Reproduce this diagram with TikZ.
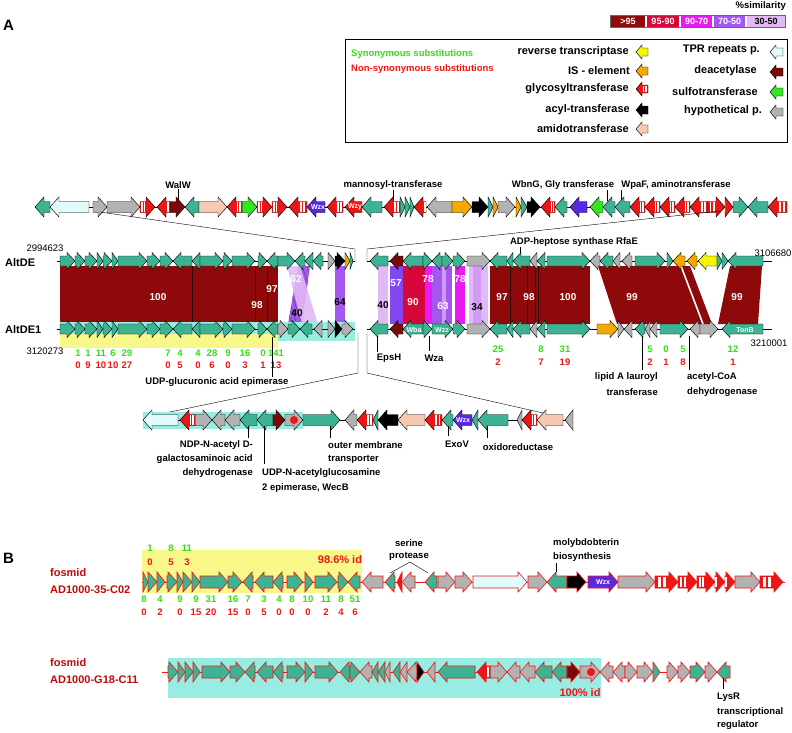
\documentclass[tikz,border=0pt]{standalone}
\usepackage{fontspec}
\setmainfont{Liberation Sans}
\usetikzlibrary{positioning}

\definecolor{cTeal}{HTML}{3DB393}
\definecolor{cTpr}{HTML}{E2FAFA}
\definecolor{cGray}{HTML}{B2B2B2}
\definecolor{cPeach}{HTML}{F7C9B2}
\definecolor{cGreen}{HTML}{33E622}
\definecolor{cBlue}{HTML}{5A28E0}
\definecolor{cOrange}{HTML}{F2A900}
\definecolor{cYellow}{HTML}{F5F500}
\definecolor{cDred}{HTML}{7A0A0A}
\definecolor{cRed}{HTML}{EE1515}
\definecolor{cSimA}{HTML}{8E0A0A}
\definecolor{cSimB}{HTML}{D6083A}
\definecolor{cSimC}{HTML}{E81CF2}
\definecolor{cSimD}{HTML}{A457EE}
\definecolor{cSimE}{HTML}{E2B8F6}
\definecolor{cCyan}{HTML}{98ECE2}
\definecolor{cYel}{HTML}{F8F88A}
\definecolor{cNumG}{HTML}{3ADD10}
\definecolor{cFos}{HTML}{C00A0A}

\tikzset{
  gene/.style={draw=black, line width=0.45pt},
  fos/.style={draw=cRed, line width=0.6pt},
  gTeal/.style={fill=cTeal}, gTpr/.style={fill=cTpr}, gGray/.style={fill=cGray},
  gPeach/.style={fill=cPeach}, gGreen/.style={fill=cGreen}, gBlue/.style={fill=cBlue},
  gOrange/.style={fill=cOrange}, gYellow/.style={fill=cYellow}, gDred/.style={fill=cDred},
  gBlack/.style={fill=black}, gRed/.style={fill=cRed},
  lbl/.style={font=\bfseries\fontsize{9.5}{11}\selectfont, inner sep=0pt},
  leg/.style={font=\bfseries\fontsize{11}{13}\selectfont, inner sep=0pt, anchor=east},
  coordlbl/.style={font=\fontsize{9.5}{11}\selectfont, inner sep=0pt},
  inlbl/.style={font=\bfseries\fontsize{7}{8}\selectfont, text=white, inner sep=0pt},
  simlbl/.style={font=\bfseries\fontsize{10}{12}\selectfont, text=white, inner sep=0pt},
  numg/.style={font=\bfseries\fontsize{9.5}{11}\selectfont, text=cNumG, inner sep=0pt},
  numr/.style={font=\bfseries\fontsize{9.5}{11}\selectfont, text=cRed, inner sep=0pt},
  fosl/.style={font=\bfseries\fontsize{11}{13}\selectfont, text=cFos, inner sep=0pt, anchor=west},
}

% gene arrow: tail x, tip x, y, style
\newcommand{\gene}[4]{%
  \pgfmathsetmacro{\gl}{#2-#1}%
  \pgfmathsetmacro{\gh}{min(abs(\gl),\hlen)*(2*(\gl>0)-1)}%
  \path[gene,#4] (#1,#3-\bh) -- ({#2-\gh},#3-\bh) -- ({#2-\gh},#3-\hh) -- (#2,#3)
    -- ({#2-\gh},#3+\hh) -- ({#2-\gh},#3+\bh) -- (#1,#3+\bh) -- cycle;}
% glycosyltransferase (striped)
\newcommand{\glyc}[4]{%
  \gene{#1}{#2}{#3}{gRed,#4}%
  \pgfmathsetmacro{\ba}{#1}\pgfmathsetmacro{\bz}{#2-\gh}%
  \fill[white] ({\ba+(\bz-\ba)*0.2},#3-\bh+0.7) rectangle ({\ba+(\bz-\ba)*0.42},#3+\bh-0.7);
  \fill[white] ({\ba+(\bz-\ba)*0.6},#3-\bh+0.7) rectangle ({\ba+(\bz-\ba)*0.82},#3+\bh-0.7);}

\begin{document}
\begin{tikzpicture}[x=1pt,y=-1pt]
\useasboundingbox[fill=white] (0,0) rectangle (792,732);

\node[font=\bfseries\fontsize{15}{17}\selectfont, inner sep=0pt, anchor=west] (pa) at (3,25) {A};
\node[font=\bfseries\fontsize{15}{17}\selectfont, inner sep=0pt, anchor=west] (pb) at (3,558) {B};

% similarity scale
\node[lbl, anchor=east] (simt) at (786,6) {\%similarity};
\fill[cSimA] (611,16) rectangle (645,27);
\fill[cSimB] (647,16) rectangle (679,27);
\fill[cSimC] (681,16) rectangle (712,27);
\fill[cSimD] (714,16) rectangle (745,27);
\fill[cSimE] (747,16) rectangle (785,27);
\draw[black!60, line width=0.4pt] (610,15.5) rectangle (785.5,27.5);
\node[simlbl, font=\bfseries\fontsize{9}{10}\selectfont] (s1) at (628,21.5) {>95};
\node[simlbl, font=\bfseries\fontsize{9}{10}\selectfont] (s2) at (663,21.5) {95-90};
\node[simlbl, font=\bfseries\fontsize{9}{10}\selectfont] (s3) at (696.5,21.5) {90-70};
\node[simlbl, font=\bfseries\fontsize{9}{10}\selectfont] (s4) at (729.5,21.5) {70-50};
\node[simlbl, font=\bfseries\fontsize{9}{10}\selectfont, text=black] (s5) at (766,21.5) {30-50};

% legend
\draw[line width=0.6pt] (345,39) rectangle (787,142);
\node[lbl, text=cNumG, anchor=west] (syn) at (351,54) {Synonymous substitutions};
\node[lbl, text=cRed, anchor=west] (nsyn) at (351,69) {Non-synonymous substitutions};
\node[leg] (lrt) at (629,52) {reverse transcriptase};
\node[leg] (lis) at (630,71) {IS - element};
\node[leg] (lgt) at (629,89) {glycosyltransferase};
\node[leg] (lat) at (630,110) {acyl-transferase};
\node[leg] (lam) at (629,129) {amidotransferase};
\node[leg] (ltpr) at (760,50) {TPR repeats p.};
\node[leg] (lde) at (757,71) {deacetylase};
\node[leg] (lsu) at (758,92) {sulfotransferase};
\node[leg] (lhy) at (762,111) {hypothetical p.};
\begin{scope}
\def\hh{7}\def\bh{4}\def\hlen{6}
\gene{648}{636}{52}{gYellow}
\gene{648}{636}{71}{gOrange}
\glyc{648}{636}{89}{}
\gene{648}{636}{110}{gBlack}
\gene{648}{636}{129}{gPeach}
\gene{783}{770}{52}{gTpr}
\gene{783}{770}{72}{gDred}
\gene{783}{770}{92}{gGreen}
\gene{783}{770}{112}{gGray}
\end{scope}

% top row
\node[lbl] (walw) at (178,185) {WalW};
\node[lbl] (mann) at (393,185) {mannosyl-transferase};
\node[lbl] (wbng) at (563,185) {WbnG, Gly transferase};
\node[lbl] (wpaf) at (676,185) {WpaF, aminotransferase};
\draw (walw.south) -- ++(0,11);
\draw (mann.south) -- ++(0,11);
\draw ([xshift=44pt]wbng.south) -- ++(0,11);
\draw ([xshift=-55pt]wpaf.south) -- ++(0,11);
\begin{scope}
\def\hh{10}\def\bh{5.5}\def\hlen{9}
\draw (35,207) -- (787,207);
\foreach \a/\b/\c in {50/35/gTeal, 89/50/gTpr, 93/107/gGray, 107/140/gGray, 170/185/gDred,
  199/185/gTeal, 199/227/gPeach, 242/257/gGreen, 325/307/gBlue, 362/345/gRed, 382/362/gTeal,
  400/405/gTeal, 405/410/gTeal, 410/414/gTeal, 452/427/gGray, 452/472/gOrange, 472/488/gBlack,
  488/493/gTeal, 493/498/gOrange, 498/515/gGray, 516/521/gOrange, 521/527/gTeal, 527/540/gBlack,
  567/555/gTeal, 587/570/gBlue, 603/590/gGreen, 615/603/gTeal, 630/615/gTeal, 733/748/gTeal,
  768/748/gTeal}
  \gene{\a}{\b}{207}{\c};
\foreach \a/\b in {140/155, 170/157, 242/227, 257/272, 272/287, 307/289, 343/327, 400/384,
  426/414, 555/541, 645/630, 660/645, 675/660, 690/675, 708/690, 708/725, 725/733, 787/768}
  \glyc{\a}{\b}{207}{};
\node[inlbl] (wzx1) at (318,207) {Wzx};
\node[inlbl] (wzy1) at (355,207) {Wzy};
\end{scope}

% connectors top row -> AltDE
\coordinate (ta) at (100,212);
\coordinate (tb) at (355,249);
\coordinate (tc) at (355,262);
\coordinate (td) at (720,211);
\coordinate (te) at (367,249);
\coordinate (tf) at (367,262);
\draw (ta) -- (tb) -- (tc);
\draw (td) -- (te) -- (tf);

% similarity bands
\fill[cSimA] (60,266) rectangle (278,324);
\draw[black!70!cSimA, line width=0.5pt] (192,266) -- (192,324) (255,266) -- (255,324) (267,266) -- (267,324);
\begin{scope}
\clip (298,266) -- (310,266) -- (302,324) -- (288,324) -- cycle;
\fill[cSimD] (280,266) rectangle (320,324);
\foreach \k in {0,...,10} \draw[black!75, line width=0.35pt] ({272+\k*5},266) -- ({292+\k*5},324);
\end{scope}
\fill[cSimE, opacity=0.9] (287,266) -- (300,266) -- (318,324) -- (302,324) -- cycle;
\fill[cSimD] (335,266) rectangle (345,324);
\fill[cSimE] (378,266) rectangle (388,324);
\fill[cSimD!80!blue] (390,266) rectangle (403,324);
\fill[cSimB] (403,266) rectangle (425,324);
\fill[cSimC] (425,266) rectangle (432,324);
\fill[cSimD] (432,266) rectangle (452,324);
\fill[cSimE!70!cSimD] (442,266) rectangle (446,324);
\fill[cSimC] (455,266) rectangle (465,324);
\fill[cSimE] (469,266) rectangle (488,324);
\fill[cSimE!70!cSimD] (473,266) rectangle (481,324);
\fill[cSimA] (490,266) rectangle (590,324);
\draw[black!70!cSimA, line width=0.5pt] (510,266) -- (510,324) (527,266) -- (527,324) (535,266) -- (535,324) (538,266) -- (538,324);
\fill[cSimA] (598,266) -- (680,266) -- (702,324) -- (617,324) -- cycle;
\fill[cSimA] (682,266) -- (690,266) -- (712,324) -- (704,324) -- cycle;
\fill[cSimA] (730,266) -- (762,266) -- (758,324) -- (718,324) -- cycle;
\node[simlbl] (p100a) at (158,297) {100};
\node[simlbl] (p98a) at (257,305) {98};
\node[simlbl] (p97a) at (272,289) {97};
\node[simlbl] (p62) at (296,279) {62};
\node[simlbl, text=black] (p40a) at (297,313) {40};
\node[simlbl, text=black] (p64) at (340,302) {64};
\node[simlbl, text=black] (p40b) at (383,305) {40};
\node[simlbl] (p57) at (396,283) {57};
\node[simlbl] (p90) at (413,302) {90};
\node[simlbl] (p78a) at (428,279) {78};
\node[simlbl] (p63) at (443,306) {63};
\node[simlbl] (p78b) at (460,279) {78};
\node[simlbl, text=black] (p34) at (477,307) {34};
\node[simlbl] (p97b) at (502,297) {97};
\node[simlbl] (p98b) at (529,297) {98};
\node[simlbl] (p100b) at (568,297) {100};
\node[simlbl] (p99a) at (632,297) {99};
\node[simlbl] (p99b) at (737,297) {99};

% AltDE row
\node[font=\bfseries\fontsize{11}{13}\selectfont, inner sep=0pt, anchor=west] (altde) at (5,263) {AltDE};
\node[coordlbl] (n1) at (45,248) {2994623};
\node[coordlbl] (n2) at (773,253) {3106680};
\node[lbl] (rfae) at (574,242) {ADP-heptose synthase RfaE};
\draw ([xshift=-54pt]rfae.south) -- ++(0,9);
\begin{scope}
\def\hh{8.5}\def\bh{5}\def\hlen{8}
\draw (57,261) -- (355,261) (367,261) -- (772,261);
\foreach \a/\b/\c in {60/75/gTeal, 75/85/gTeal, 85/97/gTeal, 97/103/gTeal, 103/112/gTeal,
  112/118/gTeal, 118/147/gTeal, 147/160/gTeal, 160/173/gTeal, 192/173/gTeal, 200/192/gTeal,
  200/223/gTeal, 223/232/gTeal, 232/255/gTeal, 258/267/gTeal, 278/267/gTeal, 278/295/gTeal,
  305/295/gTeal, 313/305/gTeal, 323/313/gTeal, 328/335/gGray, 335/345/gBlack, 345/350/gOrange,
  350/353/gTeal,
  388/370/gTeal, 403/390/gDred, 423/403/gTeal, 423/432/gTeal, 442/432/gTeal, 442/453/gTeal,
  453/465/gTeal, 467/490/gGray, 507/490/gTeal, 513/507/gTeal, 530/513/gTeal, 537/530/gGray,
  545/537/gTeal, 547/590/gTeal, 600/590/gGray, 613/600/gTeal, 620/613/gGray, 632/622/gGray,
  635/665/gTeal, 667/673/gTeal, 685/673/gOrange, 697/687/gOrange, 717/698/gYellow,
  717/722/gTeal, 722/728/gTeal, 763/728/gTeal}
  \gene{\a}{\b}{261}{\c};
\end{scope}

% AltDE1 row
\fill[cCyan] (60,322) rectangle (355,341);
\fill[cYel] (60,334) rectangle (278,348);
\node[font=\bfseries\fontsize{11}{13}\selectfont, inner sep=0pt, anchor=west] (altde1) at (5,330) {AltDE1};
\node[coordlbl] (n3) at (45,351) {3120273};
\node[coordlbl] (n4) at (769,343) {3210001};
\begin{scope}
\def\hh{8.5}\def\bh{5}\def\hlen{8}
\draw (57,329) -- (355,329) (367,329) -- (772,329);
\foreach \a/\b/\c in {60/75/gTeal, 75/85/gTeal, 85/97/gTeal, 97/103/gTeal, 103/112/gTeal,
  112/118/gTeal, 118/147/gTeal, 147/160/gTeal, 160/173/gTeal, 192/173/gTeal, 200/192/gTeal,
  200/223/gTeal, 223/232/gTeal, 232/255/gTeal, 258/267/gTeal, 278/267/gTeal, 278/288/gGray,
  288/300/gTeal, 312/300/gTeal, 322/314/gGray, 328/335/gGray, 335/342/gBlack, 342/353/gGray,
  388/370/gTeal, 403/390/gDred, 423/403/gTeal, 423/432/gTeal, 432/453/gTeal, 453/465/gTeal,
  467/490/gGray, 507/490/gTeal, 513/507/gTeal, 530/513/gTeal, 537/530/gGray, 545/537/gTeal,
  547/590/gTeal, 597/618/gOrange, 618/624/gGray, 632/624/gGray, 645/635/gTeal, 650/645/gGray,
  657/650/gGray, 660/688/gTeal, 700/690/gGray, 700/718/gGray, 763/722/gTeal}
  \gene{\a}{\b}{329}{\c};
\node[inlbl] (wba) at (414,330) {Wba};
\node[inlbl] (wzz) at (442,330) {Wzz};
\node[inlbl] (tonb) at (745,330) {TonB};
\end{scope}

% substitutions AltDE1
\foreach \x/\g/\r in {78/1/0, 88/1/9, 101/11/10, 113/6/10, 127/29/27, 168/7/0, 180/4/5,
  198/4/0, 212/28/6, 228/9/0, 245/16/3, 263/0/1, 276/141/13} {
  \node[numg] (ga\x) at (\x,353) {\g};
  \node[numr] (ra\x) at (\x,365) {\r};}
\foreach \x/\g/\r in {498/25/2, 541/8/7, 565/31/19, 650/5/2, 666/0/1, 683/5/8, 733/12/1} {
  \node[numg] (gb\x) at (\x,349) {\g};
  \node[numr] (rb\x) at (\x,362) {\r};}

% labels under AltDE1
\node[lbl] (udpg) at (217,382) {UDP-glucuronic acid epimerase};
\draw (272,337) -- ([xshift=55pt]udpg.north);
\node[lbl] (epsh) at (389,358) {EpsH};
\draw (377,336) -- ++(0,16);
\node[lbl] (wza) at (434,358) {Wza};
\draw (429,336) -- ++(0,15);
\node[lbl, anchor=east] (lip1) at (658,377) {lipid A lauroyl};
\node[lbl, anchor=east] (lip2) at (658,392) {transferase};
\draw (642,336) -- ++(0,34);
\node[lbl, anchor=west] (acc1) at (687,377) {acetyl-CoA};
\node[lbl, anchor=west] (acc2) at (687,392) {dehydrogenase};
\draw (689,336) -- ++(0,34);

% connectors AltDE1 -> lower row
\coordinate (ba) at (358,333);
\coordinate (bb) at (358,373);
\coordinate (bc) at (165,413);
\coordinate (bd) at (367,333);
\coordinate (be) at (367,373);
\coordinate (bf) at (543,413);
\draw (ba) -- (bb) -- (bc);
\draw (bd) -- (be) -- (bf);

% lower row
\fill[cCyan] (143,412) rectangle (303,429);
\begin{scope}
\def\hh{10}\def\bh{5.5}\def\hlen{9}
\draw (143,420) -- (573,420);
\foreach \a/\b/\c in {178/143/gTpr, 195/212/gGray, 225/212/gGray, 240/225/gGray, 257/240/gTeal,
  273/257/gTeal, 273/285/gDred, 285/303/gGray, 303/340/gTeal, 357/345/gGray, 378/373/gTeal,
  398/378/gBlack, 425/398/gPeach, 453/442/gTeal, 472/453/gBlue, 478/472/gTeal, 508/478/gTeal,
  522/517/gGray, 563/537/gPeach, 573/565/gGray}
  \gene{\a}{\b}{420}{\c};
\foreach \a/\b in {195/180, 373/357, 442/425, 537/522}
  \glyc{\a}{\b}{420}{};
\fill[cRed] (294,420) circle (4);
\node[inlbl] (wzx2) at (463,420) {Wzx};
\end{scope}
\node[lbl, anchor=east] (ndp1) at (253,445) {NDP-N-acetyl D-};
\node[lbl, anchor=east] (ndp2) at (253,459) {galactosaminoic acid};
\node[lbl, anchor=east] (ndp3) at (253,473) {dehydrogenase};
\draw (248,426) -- ++(0,12);
\node[lbl, anchor=west] (udpn1) at (262,473) {UDP-N-acetylglucosamine};
\node[lbl, anchor=west] (udpn2) at (262,488) {2 epimerase, WecB};
\draw (264,426) -- ++(0,38);
\node[lbl, anchor=west] (omt1) at (328,445) {outer membrane};
\node[lbl, anchor=west] (omt2) at (328,459) {transporter};
\draw (330,426) -- ++(0,12);
\node[lbl] (exov) at (457,444) {ExoV};
\draw (448,426) -- ++(0,10);
\node[lbl] (oxid) at (518,447) {oxidoreductase};
\draw (487,426) -- ++(0,12);

% B: fosmid AD1000-35-C02
\node[fosl] (f1a) at (50,573) {fosmid};
\node[fosl] (f1b) at (50,590) {AD1000-35-C02};
\fill[cYel] (142,550) rectangle (362,593);
\node[font=\bfseries\fontsize{11}{13}\selectfont, text=cRed, inner sep=0pt] (id1) at (340,560) {98.6\% id};
\foreach \x/\g/\r in {150/1/0, 171/8/5, 187/11/3} {
  \node[numg] (gc\x) at (\x,548) {\g};
  \node[numr] (rc\x) at (\x,562) {\r};}
\begin{scope}
\def\hh{10}\def\bh{6}\def\hlen{9}
\draw[cRed, line width=0.6pt] (142,582) -- (785,582);
\foreach \a/\b/\c in {143/148/gTeal, 148/157/gTeal, 157/165/gTeal, 167/177/gTeal, 177/183/gTeal,
  183/192/gTeal, 192/200/gTeal, 200/228/gTeal, 228/242/gTeal, 253/243/gTeal, 273/255/gTeal,
  283/273/gTeal, 287/303/gTeal, 305/313/gTeal, 315/337/gTeal, 338/348/gTeal, 360/348/gTeal,
  383/362/gGray, 395/385/gTeal, 415/402/gGray, 437/425/gTeal, 438/455/gGray, 455/472/gGray,
  473/527/gTpr, 528/547/gGray, 567/547/gTeal, 567/586/gBlack, 588/618/gBlue, 618/655/gGray,
  735/760/gGray}
  \gene{\a}{\b}{582}{\c,fos};
\foreach \a/\b in {402/397, 655/678, 678/697, 697/715, 715/725, 725/735, 760/783}
  \glyc{\a}{\b}{582}{fos};
\node[inlbl] (wzx3) at (603,582) {Wzx};
\end{scope}
\foreach \x/\g/\r in {144/8/0, 160/4/2, 180/9/0, 196/9/15, 211/31/20, 233/16/15, 248/7/0,
  264/3/5, 279/4/0, 292/8/0, 308/10/0, 326/11/2, 341/8/4, 355/51/6} {
  \node[numg] (gd\x) at (\x,599) {\g};
  \node[numr] (rd\x) at (\x,612) {\r};}
\node[lbl] (ser1) at (409,543) {serine};
\node[lbl] (ser2) at (409,556) {protease};
\coordinate (sp) at (410,562);
\coordinate (sq) at (390,573);
\coordinate (sr) at (428,573);
\draw (sq) -- (sp) -- (sr);
\node[lbl, anchor=west] (mol1) at (553,543) {molybdobterin};
\node[lbl, anchor=west] (mol2) at (553,557) {biosynthesis};
\draw (556,563) -- ++(0,9);

% B: fosmid AD1000-G18-C11
\node[fosl] (f2a) at (50,663) {fosmid};
\node[fosl] (f2b) at (50,680) {AD1000-G18-C11};
\fill[cCyan] (168,658) rectangle (601,698);
\node[font=\bfseries\fontsize{11}{13}\selectfont, text=cRed, inner sep=0pt] (id2) at (580,693) {100\% id};
\begin{scope}
\def\hh{10}\def\bh{6}\def\hlen{9}
\draw[cRed, line width=0.6pt] (162,672) -- (730,672);
\foreach \a/\b/\c in {168/178/gTeal, 178/185/gTeal, 185/193/gTeal, 193/200/gTeal, 202/230/gTeal,
  230/245/gTeal, 255/245/gTeal, 273/257/gTeal, 283/273/gTeal, 287/305/gTeal, 305/313/gTeal,
  315/338/gTeal, 350/340/gTeal, 350/360/gTeal, 372/360/gGray, 378/372/gTeal, 385/378/gTeal,
  390/385/gGray, 400/393/gTeal, 407/400/gGray, 417/407/gGray, 417/424/gBlack, 435/427/gGray,
  475/438/gTeal, 490/507/gGray, 520/507/gGray, 535/520/gGray, 552/535/gTeal, 567/552/gTeal,
  567/580/gDred, 580/600/gGray, 613/600/gGray, 625/613/gGray, 625/637/gGray, 637/653/gGray,
  653/660/gTeal, 667/678/gGray, 678/690/gGray, 690/705/gTeal, 705/717/gGray, 730/717/gTeal}
  \gene{\a}{\b}{672}{\c,fos};
\glyc{490}{477}{672}{fos}
\fill[cRed] (591,672) circle (4);
\end{scope}
\node[lbl, anchor=west] (lys1) at (717,697) {LysR};
\node[lbl, anchor=west] (lys2) at (717,712) {transcriptional};
\node[lbl, anchor=west] (lys3) at (717,725) {regulator};
\draw (723,678) -- ++(0,11);

\end{tikzpicture}
\end{document}
